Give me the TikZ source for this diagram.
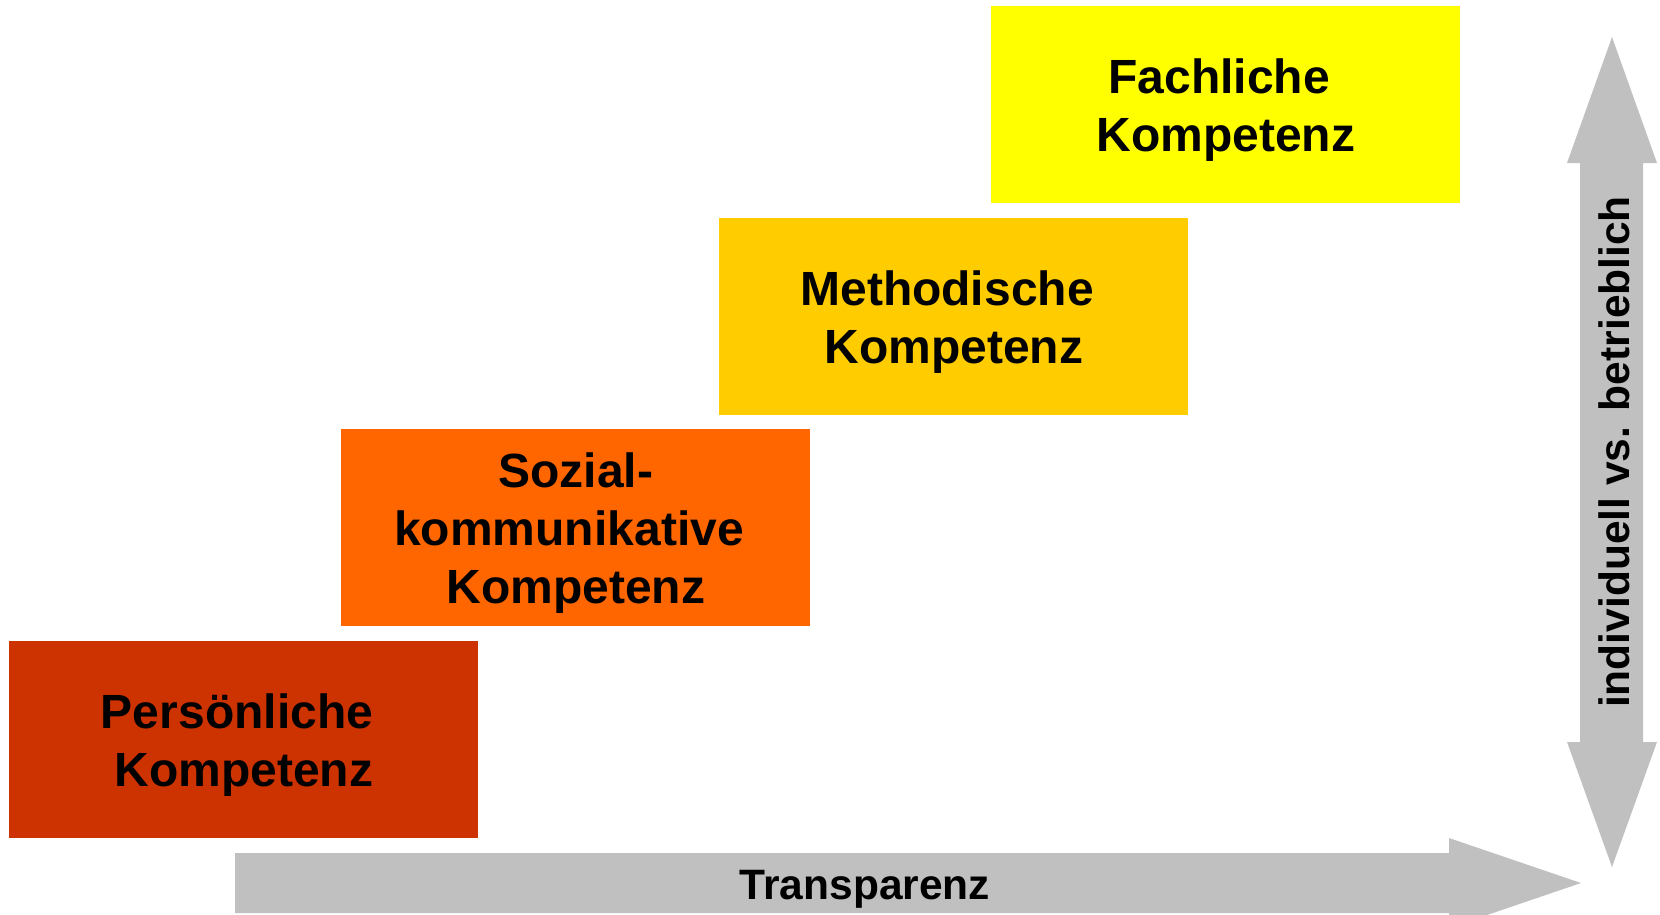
\documentclass[tikz,border=0pt]{standalone}
\usepackage{fontspec}
\setmainfont{Liberation Sans}
\begin{document}
\begin{tikzpicture}[x=1pt,y=-1pt,
  kbox/.style={rectangle, anchor=north west, minimum width=469pt, minimum height=197pt, inner sep=0pt},
  ktext/.style={inner sep=0pt, align=center, yshift=-5pt, font=\fontsize{48}{58}\selectfont\bfseries},
  axislabel/.style={font=\fontsize{42.5}{50}\selectfont\bfseries, inner sep=0pt},
  arrowfill/.style={fill=axisgray, draw=none}]
\definecolor{persred}{HTML}{CC3300}
\definecolor{sozorange}{HTML}{FF6600}
\definecolor{methgold}{HTML}{FFCC00}
\definecolor{fachyellow}{HTML}{FFFF00}
\definecolor{axisgray}{HTML}{C0C0C0}
\useasboundingbox (0,0) rectangle (1660,914);
\clip (0,0) rectangle (1660,914);
% arrows
\fill[arrowfill] (235,853) -- (1449,853) -- (1449,838) -- (1581,883) -- (1449,928) -- (1449,913) -- (235,913) -- cycle;
\fill[arrowfill] (1612,37) -- (1657,163) -- (1643,163) -- (1643,742) -- (1657,742) -- (1612,867) -- (1567,742) -- (1580,742) -- (1580,163) -- (1567,163) -- cycle;
% boxes
\node[kbox, fill=persred] (pers) at (9,641) {};
\node[kbox, fill=sozorange] (soz) at (341,429) {};
\node[kbox, fill=methgold] (meth) at (719,218) {};
\node[kbox, fill=fachyellow] (fach) at (991,6) {};
\node[ktext] (perst) at (pers.center) {Persönliche\kern0.278em\\Kompetenz};
\node[ktext] (sozt) at (soz.center) {Sozial-\\kommunikative\kern0.278em\\Kompetenz};
\node[ktext] (metht) at (meth.center) {Methodische\kern0.278em\\Kompetenz};
\node[ktext] (facht) at (fach.center) {Fachliche\kern0.278em\\Kompetenz};
% labels
\node[axislabel] (transp) at (865,889) {Transparenz};
\node[axislabel, rotate=90] (indiv) at (1614,452) {individuell vs. betrieblich};
\end{tikzpicture}
\end{document}
